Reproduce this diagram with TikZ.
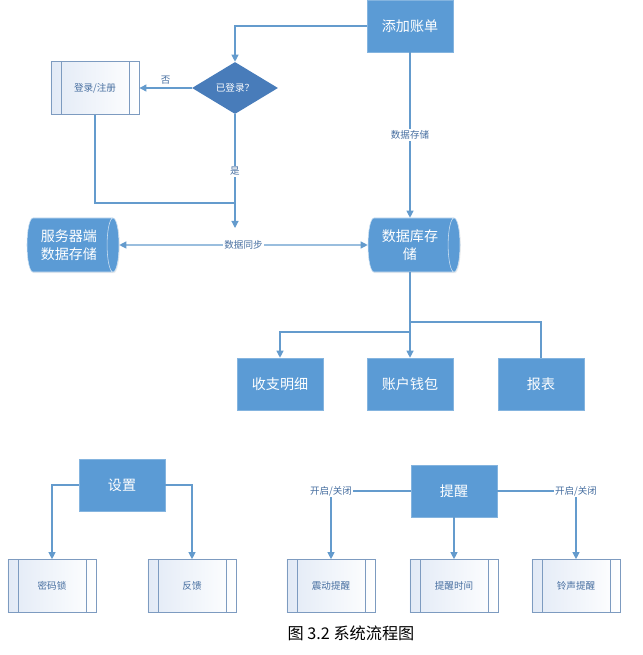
\documentclass[tikz,border=0pt]{standalone}
\usepackage{fontspec}
\setmainfont{Noto Sans CJK SC}
\usetikzlibrary{positioning,shapes.geometric,arrows.meta,shadows}
\definecolor{boxblue}{RGB}{91,155,213}
\definecolor{diamondblue}{RGB}{72,124,186}
\definecolor{flowline}{RGB}{100,155,205}
\definecolor{labeltext}{RGB}{70,110,160}
\definecolor{subborder}{RGB}{125,155,192}
\definecolor{subfill}{RGB}{226,234,246}

\begin{document}
\begin{tikzpicture}[x=0.025cm, y=-0.025cm,
    % Node styles
    mainbox/.style={rectangle, fill=boxblue, draw=boxblue!75!white, text=white,
                    minimum width=2.15cm, minimum height=1.3cm, align=center,
                    font=\fontsize{10}{13}\selectfont,
                    drop shadow={opacity=0.15, shadow xshift=0.6pt, shadow yshift=-0.8pt}},
    subbox/.style={rectangle, draw=subborder, line width=0.6pt, left color=subfill, right color=white,
                   text=labeltext, minimum width=2.2cm, minimum height=1.32cm,
                   font=\fontsize{6.8}{8}\selectfont,
                   path picture={\draw[subborder, line width=0.6pt]
                     ([xshift=0.25cm]path picture bounding box.north west) -- ([xshift=0.25cm]path picture bounding box.south west)
                     ([xshift=-0.25cm]path picture bounding box.north east) -- ([xshift=-0.25cm]path picture bounding box.south east);}},
    store/.style={cylinder, anchor=shape center, aspect=0.35, fill=boxblue, draw=white!70!boxblue, text=white,
                  minimum width=1.35cm, minimum height=2.3cm, align=center, inner sep=1pt,
                  font=\fontsize{10}{13}\selectfont,
                  drop shadow={opacity=0.15, shadow xshift=0.6pt, shadow yshift=-0.8pt}},
    decision/.style={diamond, fill=diamondblue, text=white, inner sep=0pt,
                     minimum width=2.15cm, minimum height=1.3cm, font=\fontsize{6.8}{8}\selectfont},
    % Label style
    lbl/.style={font=\fontsize{6.8}{8}\selectfont, text=labeltext, fill=white, inner sep=1pt},
    % Arrow styles
    flow/.style={-{Triangle[length=5pt, width=5pt]}, line width=0.8pt, draw=flowline},
    link/.style={line width=0.8pt, draw=flowline},
    sync/.style={{Triangle[length=5pt, width=5pt]}-{Triangle[length=5pt, width=5pt]}, line width=0.8pt, draw=flowline}
]
\useasboundingbox (0,0) rectangle (642,655);

% Upper flow
\node[mainbox] (add_bill) at (410,26) {添加账单};
\node[decision] (login_check) at (235,88) {已登录？};
\node[subbox] (login_reg) at (95,88) {登录/注册};
\node[store] (server_db) at (73,245) {服务器端\\数据存储};
\node[store] (local_db) at (414,245) {数据库存\\储};

% Bill modules
\node[mainbox] (details) at (280,384) {收支明细};
\node[mainbox] (wallet) at (410,384) {账户钱包};
\node[mainbox] (report) at (541,384) {报表};

% Settings
\node[mainbox] (settings) at (122,485) {设置};
\node[subbox] (pwd_lock) at (52,586) {密码锁};
\node[subbox] (feedback) at (192,586) {反馈};

% Reminder
\node[mainbox] (remind) at (454,491) {提醒};
\node[subbox] (vibrate) at (331,586) {震动提醒};
\node[subbox] (remind_time) at (454,586) {提醒时间};
\node[subbox] (ring) at (576,586) {铃声提醒};

% Helper points
\coordinate (join) at (235,203);
\coordinate (yes_end) at (235,228);
\coordinate (split_l) at (410,332);
\coordinate (split_r) at (410,322);

% Connections
\draw[flow] (add_bill.west) -| (login_check.north);
\draw[flow] (login_check.west) -- node[lbl, fill=none, above=1pt] {否} (login_reg.east);
\draw[flow] (login_check.south) -- node[lbl] {是} (yes_end);
\draw[link] (login_reg.south) |- (join);
\draw[sync] (server_db.east) -- node[lbl] {数据同步} (local_db.west);
\draw[flow] (add_bill.south) -- node[lbl] {数据存储} (add_bill.south |- local_db.north);
\draw[flow] (add_bill.south |- local_db.south) -- (wallet.north);
\draw[flow] (split_l) -| (details.north);
\draw[link] (split_r) -| (report.north);

\draw[flow] (settings.west) -| (pwd_lock.north);
\draw[flow] (settings.east) -| (feedback.north);
\draw[flow] (remind.west) -| node[lbl] {开启/关闭} (vibrate.north);
\draw[flow] (remind.east) -| node[lbl] {开启/关闭} (ring.north);
\draw[flow] (remind.south) -- (remind_time.north);

% Caption
\node[font=\fontsize{11.5}{14}\selectfont] (caption) at (351,633) {图\ 3.2\ 系统流程图};

\end{tikzpicture}
\end{document}
